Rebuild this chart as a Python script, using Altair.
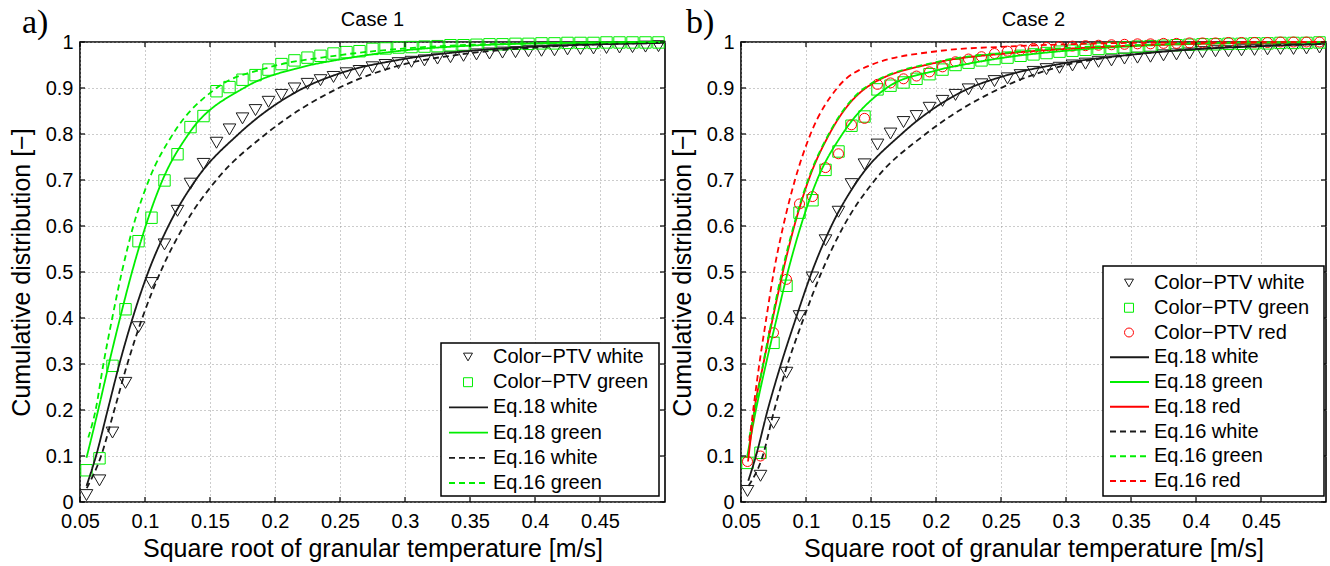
import altair as alt
import pandas as pd

# ---------------- data ----------------
X_MARK = [0.055, 0.065, 0.075, 0.085, 0.095, 0.105, 0.115, 0.125, 0.135, 0.145,
          0.155, 0.165, 0.175, 0.185, 0.195, 0.205, 0.215, 0.225, 0.235, 0.245,
          0.255, 0.265, 0.275, 0.285, 0.295, 0.305, 0.315, 0.325, 0.335, 0.345,
          0.355, 0.365, 0.375, 0.385, 0.395, 0.405, 0.415, 0.425, 0.435, 0.445,
          0.455, 0.465, 0.475, 0.485, 0.495]

# Case 1 measured (Color-PTV)
C1_WHITE = [0.015, 0.047, 0.151, 0.259, 0.380, 0.476, 0.560, 0.633, 0.692, 0.735,
            0.781, 0.810, 0.834, 0.852, 0.870, 0.885, 0.899, 0.909, 0.917, 0.924,
            0.932, 0.937, 0.945, 0.950, 0.954, 0.957, 0.960, 0.964, 0.967, 0.970,
            0.973, 0.975, 0.977, 0.978, 0.980, 0.981, 0.982, 0.984, 0.985, 0.986,
            0.987, 0.988, 0.989, 0.990, 0.991]
C1_GREEN = [0.069, 0.095, 0.296, 0.419, 0.567, 0.618, 0.699, 0.756, 0.815, 0.839,
            0.893, 0.902, 0.918, 0.928, 0.940, 0.952, 0.960, 0.966, 0.970, 0.975,
            0.978, 0.980, 0.985, 0.986, 0.988, 0.989, 0.990, 0.991, 0.993, 0.993,
            0.994, 0.995, 0.995, 0.996, 0.996, 0.997, 0.997, 0.998, 0.998, 0.998,
            0.999, 0.999, 0.999, 0.999, 0.999]

# Case 1 model curves
C1_EQ18_WHITE_X = [0.0550, 0.0623, 0.0713, 0.0803, 0.0905, 0.1025, 0.118, 0.139, 0.172, 0.222, 0.250, 0.297, 0.348, 0.400, 0.450, 0.499]
C1_EQ18_WHITE_Y = [0.035, 0.10, 0.20, 0.30, 0.40, 0.50, 0.60, 0.70, 0.80, 0.90, 0.932, 0.962, 0.980, 0.990, 0.995, 0.998]
C1_EQ16_WHITE_X = [0.0552, 0.0662, 0.0764, 0.0864, 0.0979, 0.1119, 0.1299, 0.1549, 0.193, 0.249, 0.297, 0.343, 0.400, 0.450, 0.499]
C1_EQ16_WHITE_Y = [0.030, 0.10, 0.20, 0.30, 0.40, 0.50, 0.60, 0.70, 0.80, 0.90, 0.950, 0.973, 0.988, 0.995, 0.998]
C1_EQ18_GREEN_X = [0.0550, 0.0640, 0.0722, 0.0808, 0.0900, 0.1005, 0.1135, 0.1335, 0.176, 0.220, 0.250, 0.300, 0.350, 0.400, 0.499]
C1_EQ18_GREEN_Y = [0.096, 0.20, 0.30, 0.40, 0.50, 0.60, 0.70, 0.80, 0.90, 0.945, 0.962, 0.982, 0.992, 0.997, 1.000]
C1_EQ16_GREEN_X = [0.0564, 0.0620, 0.0680, 0.0748, 0.0822, 0.0910, 0.1030, 0.1215, 0.155, 0.1944, 0.246, 0.300, 0.350, 0.400, 0.499]
C1_EQ16_GREEN_Y = [0.140, 0.20, 0.30, 0.40, 0.50, 0.60, 0.70, 0.80, 0.90, 0.944, 0.970, 0.986, 0.994, 0.997, 1.000]

# Case 2 measured (Color-PTV)
C2_WHITE = [0.024, 0.057, 0.172, 0.281, 0.404, 0.488, 0.569, 0.631, 0.691, 0.734,
            0.777, 0.801, 0.826, 0.839, 0.857, 0.872, 0.885, 0.897, 0.908, 0.915,
            0.921, 0.928, 0.935, 0.941, 0.944, 0.949, 0.953, 0.957, 0.960, 0.964,
            0.966, 0.968, 0.971, 0.973, 0.975, 0.978, 0.980, 0.980, 0.982, 0.983,
            0.984, 0.985, 0.985, 0.986, 0.988]
C2_GREEN = [0.085, 0.107, 0.346, 0.470, 0.629, 0.656, 0.722, 0.762, 0.818, 0.838,
            0.897, 0.905, 0.912, 0.920, 0.930, 0.940, 0.950, 0.955, 0.960, 0.963,
            0.966, 0.970, 0.973, 0.976, 0.979, 0.981, 0.983, 0.985, 0.987, 0.988,
            0.990, 0.991, 0.992, 0.993, 0.994, 0.995, 0.995, 0.996, 0.996, 0.997,
            0.997, 0.998, 0.998, 0.998, 0.999]
C2_RED = [0.088, 0.100, 0.368, 0.484, 0.648, 0.664, 0.727, 0.757, 0.820, 0.834,
          0.908, 0.911, 0.920, 0.926, 0.935, 0.946, 0.957, 0.963, 0.968, 0.975,
          0.980, 0.983, 0.986, 0.988, 0.990, 0.991, 0.992, 0.993, 0.994, 0.995,
          0.996, 0.996, 0.997, 0.997, 0.998, 0.998, 0.998, 0.999, 0.999, 0.999,
          0.999, 1.000, 1.000, 1.000, 1.000]

# Case 2 model curves
C2_EQ18_WHITE_X = [0.0556, 0.0615, 0.0705, 0.0808, 0.0923, 0.1045, 0.1195, 0.140, 0.1735, 0.226, 0.250, 0.301, 0.352, 0.404, 0.450, 0.499]
C2_EQ18_WHITE_Y = [0.046, 0.10, 0.20, 0.30, 0.40, 0.50, 0.60, 0.70, 0.80, 0.90, 0.924, 0.955, 0.973, 0.985, 0.991, 0.996]
C2_EQ16_WHITE_X = [0.0558, 0.0667, 0.0756, 0.0859, 0.0983, 0.1120, 0.1290, 0.1530, 0.192, 0.250, 0.300, 0.350, 0.400, 0.450, 0.499]
C2_EQ16_WHITE_Y = [0.035, 0.10, 0.20, 0.30, 0.40, 0.50, 0.60, 0.70, 0.80, 0.90, 0.950, 0.972, 0.985, 0.992, 0.996]
C2_EQ18_GREEN_X = [0.0546, 0.0615, 0.0692, 0.0775, 0.0860, 0.0960, 0.1085, 0.128, 0.162, 0.200, 0.227, 0.250, 0.304, 0.352, 0.400, 0.499]
C2_EQ18_GREEN_Y = [0.096, 0.20, 0.30, 0.40, 0.50, 0.60, 0.70, 0.80, 0.90, 0.938, 0.954, 0.965, 0.982, 0.991, 0.996, 0.999]
C2_EQ18_RED_X = [0.0554, 0.0603, 0.0672, 0.0745, 0.0822, 0.0910, 0.1020, 0.1180, 0.146, 0.200, 0.2538, 0.305, 0.350, 0.400, 0.499]
C2_EQ18_RED_Y = [0.088, 0.20, 0.30, 0.40, 0.50, 0.60, 0.70, 0.80, 0.90, 0.955, 0.975, 0.986, 0.992, 0.996, 1.000]
C2_EQ16_GREEN_X = [0.0564, 0.0605, 0.0670, 0.0740, 0.0815, 0.0905, 0.1015, 0.1175, 0.145, 0.201, 0.253, 0.300, 0.350, 0.400, 0.499]
C2_EQ16_GREEN_Y = [0.140, 0.20, 0.30, 0.40, 0.50, 0.60, 0.70, 0.80, 0.90, 0.957, 0.976, 0.987, 0.993, 0.997, 1.000]
C2_EQ16_RED_X = [0.0564, 0.0641, 0.0695, 0.0752, 0.0825, 0.0915, 0.1035, 0.124, 0.150, 0.201, 0.2538, 0.300, 0.350, 0.499]
C2_EQ16_RED_Y = [0.133, 0.30, 0.40, 0.50, 0.60, 0.70, 0.80, 0.90, 0.950, 0.980, 0.990, 0.995, 0.998, 1.000]

X_TICKS = [0.05, 0.1, 0.15, 0.2, 0.25, 0.3, 0.35, 0.4, 0.45]
Y_TICKS = [0, 0.1, 0.2, 0.3, 0.4, 0.5, 0.6, 0.7, 0.8, 0.9, 1]

LEG1 = ["Color\u2212PTV white", "Color\u2212PTV green",
        "Eq.18 white", "Eq.18 green", "Eq.16 white", "Eq.16 green"]
LEG1_KIND = ["marker", "marker", "line", "line", "line", "line"]
LEG1_COL = ["white", "green", "white", "green", "white", "green"]
LEG1_EQ = ["", "", "Eq.18", "Eq.18", "Eq.16", "Eq.16"]

LEG2 = ["Color\u2212PTV white", "Color\u2212PTV green", "Color\u2212PTV red",
        "Eq.18 white", "Eq.18 green", "Eq.18 red",
        "Eq.16 white", "Eq.16 green", "Eq.16 red"]
LEG2_KIND = ["marker"] * 3 + ["line"] * 6
LEG2_COL = ["white", "green", "red"] * 3
LEG2_EQ = ["", "", "", "Eq.18", "Eq.18", "Eq.18", "Eq.16", "Eq.16", "Eq.16"]

# ---------------- style ----------------
W, H = 585, 460
SANS = "Liberation Sans"
SERIF = "Liberation Serif"
GREEN = "#00ee00"
COLOR_SCALE = alt.Scale(domain=["white", "green", "red"], range=["#1a1a1a", GREEN, "#ff0000"])
SHAPE_SCALE = alt.Scale(domain=["white", "green", "red"], range=["triangle-down", "square", "circle"])
SIZE_SCALE = alt.Scale(domain=["white", "green", "red"], range=[160, 100, 130])
DASH_SCALE = alt.Scale(domain=["Eq.18", "Eq.16"], range=[[1, 0], [6, 4]])
XS = alt.Scale(domain=[0.05, 0.5], nice=False, zero=False)
YS = alt.Scale(domain=[0, 1], nice=False)


def build_panel(title, letter, markers, curves, leg_labels, leg_kind, leg_col, leg_eq,
                box, row_range, letter_x, anchor_corner):
    pts = pd.concat([pd.DataFrame({"x": X_MARK, "y": ys, "col": c}) for c, ys in markers],
                    ignore_index=True)
    lines = pd.concat([pd.DataFrame({"x": xs, "y": ys, "col": c, "eq": e, "series": e + " " + c})
                       for c, e, xs, ys in curves], ignore_index=True)

    x_axis = alt.Axis(values=X_TICKS, format="~g", grid=True, gridDash=[1, 3], gridColor="#999999",
                      gridWidth=1, ticks=False, domain=False, labelFont=SANS, labelFontSize=20,
                      labelColor="black", labelPadding=9, title="Square root of granular temperature [m/s]",
                      titleFont=SANS, titleFontSize=25, titleFontWeight="normal", titleColor="black",
                      titlePadding=5, labelFlush=False)
    y_axis = alt.Axis(values=Y_TICKS, format="~g", grid=True, gridDash=[1, 3], gridColor="#999999",
                      gridWidth=1, ticks=False, domain=False, labelFont=SANS, labelFontSize=20,
                      labelColor="black", labelPadding=7, title="Cumulative distribution [\u2212]",
                      titleFont=SANS, titleFontSize=25, titleFontWeight="normal", titleColor="black",
                      titlePadding=11, labelFlush=False)

    points = alt.Chart(pts).mark_point(filled=False, strokeWidth=1, opacity=1).encode(
        x=alt.X("x:Q", scale=XS, axis=x_axis),
        y=alt.Y("y:Q", scale=YS, axis=y_axis),
        color=alt.Color("col:N", scale=COLOR_SCALE, legend=None),
        shape=alt.Shape("col:N", scale=SHAPE_SCALE, legend=None),
        size=alt.Size("col:N", scale=SIZE_SCALE, legend=None),
    )
    curve = alt.Chart(lines).mark_line(strokeWidth=1.8, interpolate="monotone").encode(
        x=alt.X("x:Q", scale=XS),
        y=alt.Y("y:Q", scale=YS),
        color=alt.Color("col:N", scale=COLOR_SCALE, legend=None),
        strokeDash=alt.StrokeDash("eq:N", scale=DASH_SCALE, legend=None),
        detail="series:N",
    )

    xt = pd.DataFrame({"t": X_TICKS})
    yt = pd.DataFrame({"t": Y_TICKS})
    tick_b = alt.Chart(xt).mark_rule(color="black", strokeWidth=1.2).encode(
        x="t:Q", y=alt.value(H), y2=alt.value(H - 5))
    tick_t = alt.Chart(xt).mark_rule(color="black", strokeWidth=1.2).encode(
        x="t:Q", y=alt.value(0), y2=alt.value(5))
    tick_l = alt.Chart(yt).mark_rule(color="black", strokeWidth=1.2).encode(
        y="t:Q", x=alt.value(0), x2=alt.value(5))
    tick_r = alt.Chart(yt).mark_rule(color="black", strokeWidth=1.2).encode(
        y="t:Q", x=alt.value(W - 5), x2=alt.value(W))

    letter_txt = alt.Chart(pd.DataFrame({"t": [letter]})).mark_text(
        font=SERIF, fontSize=34, align="left", baseline="alphabetic", color="black"
    ).encode(text="t:N", x=alt.value(letter_x), y=alt.value(-9.5))
    title_txt = alt.Chart(pd.DataFrame({"t": [title]})).mark_text(
        font=SANS, fontSize=20, align="center", baseline="alphabetic", color="black"
    ).encode(text="t:N", x=alt.value(W / 2), y=alt.value(-16))

    layers = [points, curve, tick_b, tick_t, tick_l, tick_r, letter_txt, title_txt]
    if anchor_corner:
        # invisible 1px anchor pinning the top-left corner of the page
        layers.append(alt.Chart(pd.DataFrame({"a": [0]})).mark_rect(opacity=0).encode(
            x=alt.value(-79), x2=alt.value(-78), y=alt.value(-41), y2=alt.value(-40)))
    data_layer = alt.layer(*layers)

    # legend
    leg = pd.DataFrame({"row": list(range(len(leg_labels))), "label": leg_labels,
                        "kind": leg_kind, "col": leg_col, "eq": leg_eq})
    ry = alt.Y("row:Q", scale=alt.Scale(domain=[0, len(leg_labels) - 1], range=row_range, nice=False,
                                        zero=False), axis=None)
    bx = alt.Chart(pd.DataFrame({"a": [0]})).mark_rect(fill="white", stroke="black", strokeWidth=1.5).encode(
        x=alt.value(box[0]), x2=alt.value(box[1]), y=alt.value(box[2]), y2=alt.value(box[3]))
    lmark = alt.Chart(leg).transform_filter(alt.datum.kind == "marker").mark_point(
        filled=False, strokeWidth=1, size=80, opacity=1).encode(
        x=alt.value(388), y=ry,
        color=alt.Color("col:N", scale=COLOR_SCALE, legend=None),
        shape=alt.Shape("col:N", scale=SHAPE_SCALE, legend=None))
    lline = alt.Chart(leg).transform_filter(alt.datum.kind == "line").mark_rule(strokeWidth=1.8).encode(
        x=alt.value(369), x2=alt.value(408), y=ry,
        color=alt.Color("col:N", scale=COLOR_SCALE, legend=None),
        strokeDash=alt.StrokeDash("eq:N", scale=DASH_SCALE, legend=None))
    ltext = alt.Chart(leg).mark_text(font=SANS, fontSize=20, align="left", baseline="middle",
                                     color="black").encode(x=alt.value(413), y=ry, text="label:N")
    legend_layer = alt.layer(bx, lmark, lline, ltext)

    return alt.layer(data_layer, legend_layer).resolve_scale(y="independent").properties(
        width=W, height=H)


left = build_panel(
    "Case 1", "a)",
    [("white", C1_WHITE), ("green", C1_GREEN)],
    [("white", "Eq.18", C1_EQ18_WHITE_X, C1_EQ18_WHITE_Y),
     ("green", "Eq.18", C1_EQ18_GREEN_X, C1_EQ18_GREEN_Y),
     ("white", "Eq.16", C1_EQ16_WHITE_X, C1_EQ16_WHITE_Y),
     ("green", "Eq.16", C1_EQ16_GREEN_X, C1_EQ16_GREEN_Y)],
    LEG1, LEG1_KIND, LEG1_COL, LEG1_EQ,
    (361, 579, 301, 454), [315, 441], -58, True)

right = build_panel(
    "Case 2", "b)",
    [("white", C2_WHITE), ("green", C2_GREEN), ("red", C2_RED)],
    [("white", "Eq.18", C2_EQ18_WHITE_X, C2_EQ18_WHITE_Y),
     ("green", "Eq.18", C2_EQ18_GREEN_X, C2_EQ18_GREEN_Y),
     ("red", "Eq.18", C2_EQ18_RED_X, C2_EQ18_RED_Y),
     ("white", "Eq.16", C2_EQ16_WHITE_X, C2_EQ16_WHITE_Y),
     ("green", "Eq.16", C2_EQ16_GREEN_X, C2_EQ16_GREEN_Y),
     ("red", "Eq.16", C2_EQ16_RED_X, C2_EQ16_RED_Y)],
    LEG2, LEG2_KIND, LEG2_COL, LEG2_EQ,
    (362, 583, 224, 454), [241, 439], -55, False)

chart = alt.hconcat(left, right, spacing=76, bounds="flush").properties(
    padding=0,
    background="white",
).configure_view(stroke="black", strokeWidth=1.6)

chart.save("out.html", embed_options={"renderer": "svg", "actions": False})
